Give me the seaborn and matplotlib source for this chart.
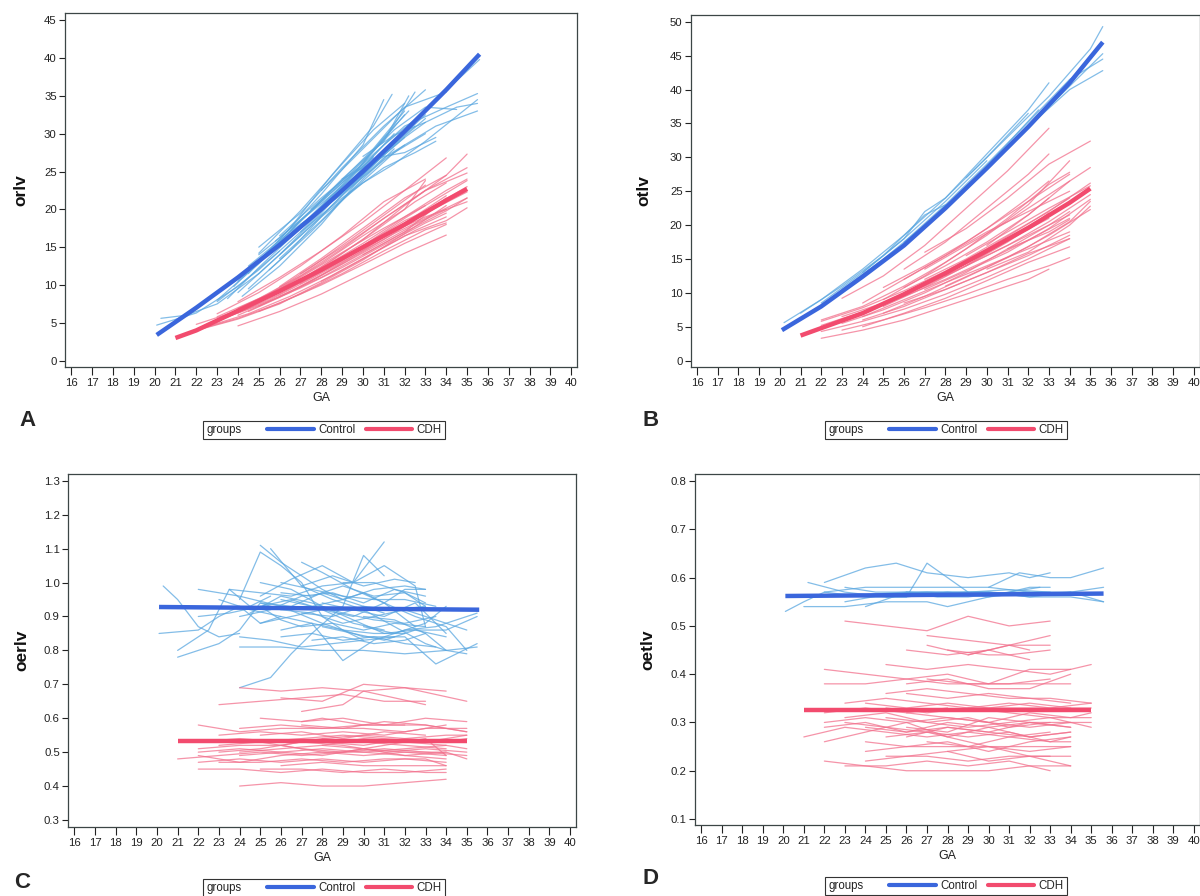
import pandas as pd
import matplotlib
matplotlib.use("Agg")
import matplotlib.pyplot as plt
from matplotlib.lines import Line2D
from matplotlib.text import Text
import seaborn as sns

# ---------------- data ----------------
ga_ticks = list(range(16, 41))

# panel A: orlv, individual subjects as (GA, value)
orlv_control = [
    [(20.1, 4.7), (22, 6.3), (24, 9.8), (26, 14.5)],
    [(20.3, 5.6), (21.5, 6.0), (23, 7.5), (25, 11.5)],
    [(23.5, 8.2), (25, 12.3), (27, 17.5), (29, 23), (31, 28.5), (33, 33)],
    [(24, 10.5), (26, 16), (28, 22), (30, 28.5), (31, 34.5)],
    [(24.5, 11.5), (26.5, 17.5), (28.5, 24.5), (30.5, 31), (31.4, 35.2)],
    [(25, 13), (27, 18.5), (29, 24), (31, 29), (32.5, 35.5)],
    [(25, 15), (27, 19.5), (29, 25.5), (31, 31), (33, 35.8)],
    [(24.2, 8.5), (26, 12.5), (28, 18), (30, 24.5), (32, 30), (33, 32.5)],
    [(25.5, 12), (27.5, 17), (29.5, 22.5), (31.5, 27.5), (33, 30)],
    [(26, 16.5), (28, 21.5), (30, 26), (32, 31), (34, 33.5), (35.5, 35.3)],
    [(27, 18), (29, 22), (31, 26.5), (32, 28.5), (33.5, 31), (35.5, 33)],
    [(26, 14), (28, 19), (30, 23.5), (31.5, 26), (33, 29), (35.5, 34.5)],
    [(28, 22.5), (30, 28), (32, 33.5), (34, 35.5)],
    [(23, 8), (25, 12.8), (27, 18.5), (29, 23.5), (30.5, 26.8)],
    [(25, 14.2), (27, 19.8), (29, 26), (30.5, 30.5), (32, 34)],
    [(26.5, 17), (28.5, 21), (30, 24.5), (31.5, 28.5), (33, 32)],
    [(24.5, 9.5), (26.5, 14.5), (28.5, 20.5), (30.5, 26), (32, 29.5)],
    [(33, 33), (34.5, 37), (35.6, 39.8)],
    [(27.5, 20), (29.5, 25), (31.5, 30.5), (33, 33.5), (34.5, 33.2)],
    [(25.8, 15.8), (27.8, 20.5), (29.8, 25.5), (31.2, 30), (32.2, 35)],
    [(23, 7.8), (25, 12), (27, 17), (29, 22.5), (30.5, 27)],
    [(24, 9), (26, 14), (28, 19.5), (30, 25.5), (31.5, 30)],
    [(25, 14), (27, 18.5), (29, 23), (31, 27.5), (32.5, 31)],
    [(26, 15), (28, 20.5), (30, 26), (32, 32.5)],
    [(24.5, 12.5), (26.5, 17), (28.5, 22.5), (30.5, 28), (32, 33)],
    [(27, 17), (29, 21.5), (31, 25.5), (32.5, 27.5), (33.5, 29)],
    [(25, 11.5), (27, 16.5), (29, 21.8), (31, 26.8), (32, 28.5)],
    [(28, 20), (30, 24.8), (32, 29.5), (33, 31.5)],
    [(26, 13.5), (28, 18.5), (30, 24), (31.5, 28)],
    [(23.8, 9.8), (25.5, 14.5), (27.5, 19), (29.5, 24.5), (31, 29.5), (32.2, 33)],
    [(29, 24), (31, 27), (32, 27.5), (33.5, 29.5)],
    [(30, 27), (31.5, 29.8), (33, 31.5), (34.5, 33.5), (35.5, 34)],
]
orlv_cdh = [
    [(22, 4.8), (24, 6.6), (26, 9), (28, 12.4), (30, 16), (32, 20.5), (34, 24.5), (35, 27.3)],
    [(23, 6.2), (25, 9), (27, 12.5), (29, 16.5), (31, 21), (33, 24)],
    [(24, 4.6), (26, 6.5), (28, 8.8), (30, 11.5), (32, 14.2), (34, 16.6)],
    [(22.2, 4.2), (24, 5.6), (26, 7.6), (28, 10), (30, 12.7), (32, 15.5), (34, 18)],
    [(24, 7.8), (26, 11), (28, 14.5), (30, 18.3), (32, 22.5), (34, 26.8)],
    [(25, 8), (27, 11), (29, 14.3), (31, 17.5), (33, 20.5), (35, 23.8)],
    [(23.5, 5.8), (25.5, 8), (27.5, 10.8), (29.5, 13.8), (31.5, 16.8), (33.5, 19.5), (35, 21.5)],
    [(24.5, 6.5), (26.5, 9), (28.5, 12), (30.5, 15), (32.5, 18), (34, 20)],
    [(22.5, 4.5), (24.5, 6.2), (26.5, 8.5), (28.5, 11.2), (30.5, 14.2), (32.5, 17.2), (34, 19)],
    [(26, 9.8), (28, 13.5), (30, 17.5), (32, 21.5), (34, 24.5)],
    [(25, 7.2), (27, 9.8), (29, 12.8), (31, 16), (33, 19.5), (35, 22.3)],
    [(27, 11.5), (29, 15), (31, 18.8), (33, 22.5), (35, 24.8)],
    [(23, 5.3), (25, 7.3), (27, 9.6), (29, 12.3), (31, 15.3), (33, 18.2), (34, 19.5)],
    [(28, 10.5), (30, 13.5), (32, 16.5), (34, 18.5), (35, 20.2)],
    [(26, 8.5), (28, 11), (30, 14), (32, 17), (34, 21.5)],
    [(24, 6.9), (26, 9.5), (28, 12.8), (30, 16.5), (32, 20), (33, 23.8)],
    [(29, 13.5), (31, 16.5), (33, 19), (35, 21)],
    [(22, 4.0), (24, 5.5), (26, 7.5), (28, 10.3), (30, 13.3), (32, 16.8), (34, 20.5)],
    [(24, 6), (26, 8.4), (28, 11.3), (30, 14.6), (32, 18.2), (34, 21.8)],
    [(25, 6.5), (27, 8.8), (29, 11.5), (31, 14.5), (33, 17.3), (34, 18.2)],
    [(23, 5.8), (25, 8.2), (27, 11.2), (29, 14.8), (31, 18.8), (33, 22.5), (35, 25.5)],
    [(26, 9.2), (28, 12.2), (30, 15.5), (32, 19), (34, 22.5), (35, 24)],
    [(27, 10.2), (29, 13.2), (31, 16.5), (33, 19.8), (35, 23)],
    [(22.5, 4.8), (24.5, 7), (26.5, 9.8), (28.5, 13.2), (30.5, 17), (32.5, 21), (34, 23.5)],
    [(28, 12), (30, 15.2), (32, 18.5), (34, 21)],
    [(24, 6.3), (26, 8.8), (28, 11.8), (30, 15.2), (32, 18.8), (33, 20.5)],
    [(30, 14), (32, 17), (34, 19.8), (35, 21.5)],
    [(25.5, 8.8), (27.5, 12.3), (29.5, 16.2), (31.5, 20.2), (33, 23.2)],
]
orlv_control_mean_ga = [20.1, 22, 24, 26, 28, 30, 32, 34, 35.6]
orlv_control_mean = [3.4, 7.0, 11.0, 15.3, 20.0, 25.0, 30.3, 35.8, 40.5]
orlv_cdh_mean_ga = [21, 22, 24, 26, 28, 30, 32, 34, 35]
orlv_cdh_mean = [3.0, 4.0, 6.6, 9.2, 12.0, 15.0, 18.0, 21.2, 22.7]

# panel B: otlv
otlv_control = [
    [(20.2, 5.6), (22, 9), (24, 13.5), (26, 18.5), (28, 24), (30, 30.5), (32, 37), (33, 41)],
    [(21, 7), (23, 11), (25, 15.5), (27, 21.5), (28, 23)],
    [(24, 13), (26, 18), (27, 22), (28, 24), (30, 30), (32, 36.5)],
    [(29, 27), (31, 33), (33, 39), (35, 46), (35.6, 49.3)],
    [(32, 34.5), (34, 40), (35.6, 42.8)],
    [(31, 31.5), (33, 37.5), (35.6, 45.3)],
    [(22, 8.5), (24, 13), (26, 18), (28, 23.5), (30, 29.5)],
    [(23, 10.5), (25, 15), (27, 20), (29, 25.5), (31, 32), (32.5, 37)],
    [(26, 17.5), (28, 23), (30, 29), (32, 35.2), (34, 41.5), (35.6, 44.5)],
]
otlv_cdh = [
    [(23, 9.2), (25, 12.5), (27, 17), (29, 22.5), (31, 28), (33, 34.3)],
    [(26, 13.5), (28, 17.5), (30, 22.5), (32, 27.5), (33, 30.5)],
    [(27, 16), (29, 19.5), (31, 24), (33, 29), (35, 32.4)],
    [(22, 6), (24, 8), (26, 11), (28, 14.5), (30, 18.5), (32, 23), (34, 29.5)],
    [(22, 3.3), (24, 4.5), (26, 6), (28, 8), (30, 10), (32, 12), (33, 13.5)],
    [(23, 4.5), (25, 6), (27, 7.8), (29, 9.8), (31, 12), (33, 14), (34, 15.2)],
    [(24, 5), (26, 7), (28, 9.2), (30, 11.8), (32, 14.5), (34, 16.8)],
    [(25, 7), (27, 9.5), (29, 12.3), (31, 15.2), (33, 18.5), (35, 22.3)],
    [(26, 10.8), (28, 14), (30, 17.5), (32, 21.5), (34, 26.5)],
    [(22, 5.2), (24, 7.2), (26, 9.5), (28, 12), (30, 14.8), (32, 17.8), (34, 21)],
    [(27, 12), (29, 15), (31, 18.5), (33, 22), (35, 26.2)],
    [(24, 6.5), (26, 9), (28, 11.5), (30, 14), (32, 16.5), (34, 19)],
    [(25, 9), (27, 12.5), (29, 16.5), (31, 21), (33, 26), (34, 27.8)],
    [(28, 11), (30, 13.8), (32, 16.8), (34, 20.5), (35, 23.5)],
    [(23, 5.5), (25, 7.5), (27, 10), (29, 13), (31, 16.5), (33, 20), (34, 22)],
    [(26, 8.5), (28, 10.5), (30, 13), (32, 15.8), (34, 18)],
    [(29, 14), (31, 17), (33, 20.5), (35, 24.5)],
    [(30, 17), (32, 21.5), (33, 24)],
    [(27, 10.5), (29, 13.2), (31, 16), (33, 19.5), (35, 23.8)],
    [(22, 4.3), (24, 5.8), (26, 7.6), (28, 9.8), (30, 12.3), (32, 15), (34, 18)],
    [(24, 8.5), (26, 12), (28, 15.5), (30, 19.5), (32, 24), (33, 26.5)],
    [(25, 10.8), (27, 14), (29, 17.5), (31, 21.5), (33, 25.5), (34, 27.5)],
    [(26, 12), (28, 15.5), (30, 19), (32, 22), (34, 25)],
    [(27, 13.5), (29, 17), (31, 20.5), (33, 24.5), (35, 28.5)],
    [(23, 6.5), (25, 8.5), (27, 11), (29, 14), (31, 17.5), (33, 21.5)],
    [(28, 12.5), (30, 15.5), (32, 18.5), (34, 21.5)],
    [(29, 15.5), (31, 19), (33, 22.5), (35, 25.8)],
    [(24, 6), (26, 8), (28, 10.5), (30, 13), (32, 15.5), (34, 18.5)],
    [(22, 5.8), (24, 7.8), (26, 10.3), (28, 13.2), (30, 16.5), (32, 20.2), (34, 24)],
    [(30, 13.5), (32, 16), (34, 20), (35, 22.8)],
    [(26, 10), (28, 12.8), (30, 16), (32, 19.5), (33, 21.8)],
    [(25, 8), (27, 10.8), (29, 14), (31, 17.8), (33, 21)],
    [(31, 16.5), (33, 19), (34, 20.8)],
]
otlv_control_mean_ga = [20.1, 22, 24, 26, 28, 30, 32, 34, 35.6]
otlv_control_mean = [4.5, 8.0, 12.4, 17.0, 22.5, 28.4, 34.5, 41.0, 47.0]
otlv_cdh_mean_ga = [21, 22, 24, 26, 28, 30, 32, 34, 35]
otlv_cdh_mean = [3.7, 4.8, 7.0, 9.8, 12.9, 16.2, 19.6, 23.3, 25.4]

# panel C: oerlv
oerlv_control = [
    [(20.3, 0.99), (21, 0.95), (22, 0.87), (23, 0.84), (24, 0.85)],
    [(20.1, 0.85), (22, 0.86), (23, 0.90), (24, 0.93), (25, 0.88), (26, 0.90)],
    [(21, 0.78), (22, 0.80), (23, 0.82), (24, 0.86), (25, 0.94), (26, 0.92)],
    [(21, 0.80), (22.5, 0.86), (23.5, 0.98), (24.5, 0.93), (25.5, 0.96)],
    [(24, 0.69), (25.5, 0.72), (26.5, 0.79), (27.5, 0.85), (29, 0.93), (30, 1.08), (31, 1.02)],
    [(25, 1.11), (26, 1.06), (27, 1.02), (28, 0.98), (29, 0.95), (30, 0.97), (31, 0.94), (32.5, 0.87)],
    [(25.5, 1.10), (27, 0.99), (28.5, 0.95), (30, 0.92), (31.5, 0.87), (33, 0.82), (34, 0.80)],
    [(24, 0.95), (25, 1.09), (26, 1.05), (27, 1.00), (28, 0.90), (29, 0.86), (30, 0.83)],
    [(23.5, 0.98), (25, 0.97), (26.5, 0.96), (28, 0.99), (29.5, 1.00), (31, 1.12)],
    [(25, 0.96), (26.5, 1.01), (28, 1.05), (29.5, 1.00), (31, 1.05), (32.5, 0.99), (33, 0.87)],
    [(22, 0.98), (23, 0.97), (24, 0.96), (26, 0.93), (28, 0.88), (30, 0.84), (32, 0.84), (33.5, 0.76), (35.5, 0.82)],
    [(24, 0.81), (26, 0.81), (28, 0.80), (30, 0.80), (32, 0.79), (34, 0.80), (35.5, 0.81)],
    [(26, 0.86), (27.5, 0.88), (29, 0.77), (30.5, 0.83), (32, 0.86), (33.5, 0.87), (35.5, 0.91)],
    [(25, 0.88), (26.5, 0.90), (28, 0.92), (29.5, 0.90), (31, 0.94), (32, 0.98), (33, 0.98)],
    [(26, 1.00), (27.5, 0.98), (29, 0.96), (30.5, 0.95), (32, 0.95), (33.5, 0.93)],
    [(27, 1.06), (28, 1.03), (29.5, 0.98), (31, 0.94), (32.5, 0.90), (34, 0.87), (35, 0.80)],
    [(24.5, 0.91), (26, 0.96), (27.5, 0.94), (29, 0.91), (30.5, 0.89), (32, 0.88), (33.5, 0.90)],
    [(27.5, 0.83), (29, 0.84), (30.5, 0.82), (32, 0.83), (33, 0.85)],
    [(28, 0.94), (29.5, 0.92), (31, 0.90), (32.5, 0.94), (34, 0.85)],
    [(25, 0.93), (26, 0.89), (27, 0.87), (28.5, 0.88), (30, 0.86), (31.5, 0.88), (33, 0.87)],
    [(26, 0.95), (27.5, 0.93), (29, 0.95), (30.5, 0.98), (32, 0.99), (33, 0.98)],
    [(30, 0.90), (31.5, 0.89), (33, 0.85), (34, 0.80), (35, 0.79)],
    [(22, 0.90), (23.5, 0.91), (25, 0.93), (26.5, 0.95), (28, 0.92), (29.5, 0.88), (31, 0.86)],
    [(24, 0.90), (25.5, 0.92), (27, 0.96), (28.5, 0.97), (30, 0.94), (31.5, 0.98), (33, 0.96)],
    [(26, 0.97), (27.5, 0.96), (29, 0.99), (30.5, 0.96), (32, 0.97), (33, 0.94)],
    [(25, 1.00), (26.5, 0.98), (28, 0.93), (29.5, 0.89), (31, 0.85), (32.5, 0.86), (34, 0.84)],
    [(27, 0.91), (28.5, 0.90), (30, 0.93), (31.5, 0.92), (33, 0.93)],
    [(23, 0.95), (24.5, 0.92), (26, 0.90), (27.5, 0.88), (29, 0.86), (30.5, 0.85), (32, 0.85)],
    [(28, 0.87), (29.5, 0.85), (31, 0.83), (32.5, 0.86), (34, 0.86), (35.5, 0.90)],
    [(26, 0.84), (27.5, 0.85), (29, 0.83), (30.5, 0.84), (32, 0.82), (33.5, 0.81)],
    [(29, 1.00), (30.5, 1.00), (32, 0.97), (33, 0.93)],
    [(25, 0.94), (26.5, 0.93), (28, 0.97), (29.5, 0.94), (31, 0.91)],
    [(27, 0.99), (28.5, 1.02), (30, 0.99), (31.5, 1.01), (32.5, 1.00)],
    [(24, 0.84), (25.5, 0.83), (27, 0.81), (28.5, 0.82), (30, 0.83), (31.5, 0.84)],
    [(30, 0.87), (31.5, 0.85), (33, 0.88), (34, 0.93)],
    [(26, 0.92), (27.5, 0.91), (29, 0.88), (30.5, 0.90), (32, 0.92), (33.5, 0.89), (35, 0.86)],
]
oerlv_cdh = [
    [(24, 0.69), (26, 0.68), (28, 0.69), (30, 0.68), (32, 0.69), (34, 0.68)],
    [(23, 0.64), (25, 0.65), (27, 0.66), (29, 0.67), (31, 0.65), (33, 0.65)],
    [(26, 0.66), (28, 0.65), (30, 0.70), (32, 0.69), (35, 0.65)],
    [(27, 0.62), (29, 0.64), (30, 0.68), (31.5, 0.66), (33, 0.64)],
    [(25, 0.60), (27, 0.59), (28, 0.60), (30, 0.58), (31, 0.58), (33, 0.60), (35, 0.59)],
    [(22, 0.58), (24, 0.56), (26, 0.57), (28, 0.57), (30, 0.57), (32, 0.56), (34, 0.58)],
    [(23, 0.55), (25, 0.56), (27, 0.55), (29, 0.56), (31, 0.55), (33, 0.57), (35, 0.57)],
    [(22, 0.51), (24, 0.52), (26, 0.52), (28, 0.54), (30, 0.53), (32, 0.52), (34, 0.51)],
    [(21, 0.48), (23, 0.49), (25, 0.50), (27, 0.49), (29, 0.50), (31, 0.51), (33, 0.50), (35, 0.49)],
    [(22, 0.47), (24, 0.48), (26, 0.47), (28, 0.48), (30, 0.47), (32, 0.48), (34, 0.47)],
    [(22, 0.45), (24, 0.45), (26, 0.44), (28, 0.45), (30, 0.44), (32, 0.44), (34, 0.45)],
    [(24, 0.40), (26, 0.41), (28, 0.40), (30, 0.40), (32, 0.41), (34, 0.42)],
    [(23, 0.50), (25, 0.51), (27, 0.53), (29, 0.52), (31, 0.50), (33, 0.51), (35, 0.50)],
    [(24, 0.49), (26, 0.50), (28, 0.49), (30, 0.51), (32, 0.49), (34, 0.48)],
    [(25, 0.53), (27, 0.54), (29, 0.55), (31, 0.54), (33, 0.53), (35, 0.55)],
    [(26, 0.46), (28, 0.47), (30, 0.46), (32, 0.46), (34, 0.46)],
    [(23, 0.52), (25, 0.53), (27, 0.51), (29, 0.50), (31, 0.52), (33, 0.54), (34, 0.49)],
    [(22, 0.49), (24, 0.47), (26, 0.49), (28, 0.50), (30, 0.49), (32, 0.50), (34, 0.50), (35, 0.48)],
    [(27, 0.58), (29, 0.57), (31, 0.59), (33, 0.58), (35, 0.56)],
    [(28, 0.52), (30, 0.54), (32, 0.53), (34, 0.52)],
    [(22, 0.53), (24, 0.54), (26, 0.53), (28, 0.53), (30, 0.52), (32, 0.54), (34, 0.53), (35, 0.54)],
    [(24, 0.50), (26, 0.51), (28, 0.52), (30, 0.51), (32, 0.50), (34, 0.49)],
    [(25, 0.55), (27, 0.56), (29, 0.54), (31, 0.56), (33, 0.55)],
    [(23, 0.47), (25, 0.47), (27, 0.48), (29, 0.47), (31, 0.48), (33, 0.48), (34, 0.46)],
    [(26, 0.52), (28, 0.50), (30, 0.50), (32, 0.51), (34, 0.52), (35, 0.51)],
    [(27, 0.59), (29, 0.60), (31, 0.58), (33, 0.58), (35, 0.56)],
    [(22, 0.50), (24, 0.51), (26, 0.50), (28, 0.51), (30, 0.50), (32, 0.49), (34, 0.50)],
    [(25, 0.45), (27, 0.45), (29, 0.44), (31, 0.45), (33, 0.44), (34, 0.44)],
    [(28, 0.54), (30, 0.55), (32, 0.54), (34, 0.55), (35, 0.55)],
    [(24, 0.57), (26, 0.58), (28, 0.57), (30, 0.58), (32, 0.58)],
]
oerlv_control_mean_ga = [20.1, 35.6]
oerlv_control_mean = [0.928, 0.920]
oerlv_cdh_mean_ga = [21, 35]
oerlv_cdh_mean = [0.533, 0.533]

# panel D: oetlv
oetlv_control = [
    [(22, 0.59), (24, 0.62), (25.5, 0.63), (27, 0.61), (29, 0.60), (31, 0.61), (32, 0.60), (33, 0.61)],
    [(21.2, 0.59), (23, 0.57), (25, 0.56), (26, 0.56), (27, 0.63), (28, 0.60), (29, 0.57)],
    [(20.1, 0.53), (21, 0.55), (22, 0.57), (24, 0.58), (26, 0.58), (28, 0.58), (30, 0.58), (32, 0.57)],
    [(21, 0.54), (23, 0.54), (25, 0.55), (27, 0.55), (28, 0.54), (30, 0.56), (32, 0.58), (33, 0.58)],
    [(24, 0.54), (26, 0.57), (28, 0.57), (30, 0.57), (32, 0.56), (34, 0.57), (35.6, 0.55)],
    [(22, 0.57), (24, 0.56), (26, 0.56), (28, 0.57), (30, 0.57), (32, 0.56), (34, 0.56), (35.6, 0.55)],
    [(30, 0.58), (31.5, 0.61), (33, 0.60), (34, 0.60), (35.6, 0.62)],
    [(26, 0.57), (28, 0.57), (30, 0.56), (32, 0.57), (34, 0.57), (35.6, 0.58)],
    [(23, 0.58), (24.5, 0.57), (26, 0.57), (27.5, 0.56), (29, 0.56), (31, 0.57), (32.5, 0.58)],
    [(24, 0.565), (26, 0.57), (28, 0.565), (30, 0.57), (32, 0.565), (34, 0.57)],
    [(25, 0.56), (27, 0.565), (29, 0.57), (31, 0.575), (33, 0.57)],
    [(23, 0.55), (25, 0.565), (27, 0.57), (29, 0.565)],
]
oetlv_cdh = [
    [(23, 0.51), (25, 0.50), (27, 0.49), (29, 0.52), (31, 0.50), (33, 0.51)],
    [(27, 0.48), (29, 0.47), (31, 0.46), (32, 0.45)],
    [(27, 0.46), (29, 0.44), (31, 0.46), (33, 0.46)],
    [(26, 0.45), (28, 0.44), (30, 0.45), (32, 0.43)],
    [(28, 0.45), (30, 0.44), (31, 0.44), (33, 0.45)],
    [(29, 0.44), (31, 0.46), (33, 0.48)],
    [(22, 0.41), (24, 0.40), (26, 0.39), (28, 0.40), (30, 0.38), (32, 0.41), (34, 0.41)],
    [(22, 0.38), (24, 0.38), (26, 0.39), (28, 0.38), (30, 0.38), (32, 0.38), (34, 0.38)],
    [(25, 0.42), (27, 0.41), (29, 0.42), (31, 0.41), (33, 0.40), (35, 0.42)],
    [(26, 0.38), (28, 0.39), (30, 0.37), (32, 0.37), (34, 0.40)],
    [(25, 0.36), (27, 0.37), (29, 0.36), (31, 0.35), (33, 0.35), (35, 0.34)],
    [(23, 0.34), (25, 0.35), (27, 0.34), (29, 0.33), (31, 0.33), (33, 0.33), (35, 0.34)],
    [(22, 0.30), (24, 0.31), (26, 0.30), (28, 0.31), (30, 0.30), (32, 0.29), (34, 0.30), (35, 0.30)],
    [(21, 0.27), (23, 0.29), (25, 0.28), (27, 0.27), (29, 0.28), (31, 0.27), (33, 0.28)],
    [(22, 0.26), (24, 0.28), (26, 0.30), (28, 0.27), (30, 0.29), (32, 0.27), (34, 0.28)],
    [(24, 0.26), (26, 0.25), (28, 0.25), (30, 0.25), (32, 0.25), (34, 0.25)],
    [(24, 0.24), (26, 0.25), (28, 0.26), (30, 0.24), (32, 0.26), (34, 0.27)],
    [(22, 0.22), (24, 0.21), (26, 0.20), (28, 0.20), (30, 0.20), (32, 0.21), (34, 0.21)],
    [(23, 0.21), (25, 0.21), (27, 0.22), (29, 0.21), (31, 0.22), (33, 0.20)],
    [(24, 0.22), (26, 0.23), (28, 0.24), (30, 0.22), (32, 0.23), (34, 0.23)],
    [(25, 0.31), (27, 0.30), (29, 0.29), (31, 0.30), (33, 0.31), (35, 0.31)],
    [(26, 0.29), (28, 0.28), (30, 0.31), (32, 0.30), (34, 0.29)],
    [(25, 0.33), (27, 0.32), (29, 0.33), (31, 0.32), (33, 0.31), (35, 0.29)],
    [(23, 0.30), (25, 0.29), (27, 0.28), (29, 0.26), (31, 0.24), (33, 0.22), (34, 0.21)],
    [(24, 0.29), (26, 0.28), (28, 0.30), (30, 0.29), (32, 0.30), (34, 0.30)],
    [(25, 0.27), (27, 0.28), (29, 0.27), (31, 0.28), (33, 0.26), (34, 0.27)],
    [(26, 0.32), (28, 0.31), (30, 0.30), (32, 0.32), (34, 0.31), (35, 0.32)],
    [(22, 0.29), (24, 0.30), (26, 0.28), (28, 0.29), (30, 0.28), (32, 0.30), (34, 0.29)],
    [(27, 0.26), (29, 0.25), (31, 0.27), (33, 0.26), (34, 0.26)],
    [(23, 0.31), (25, 0.32), (27, 0.30), (29, 0.31), (31, 0.29), (33, 0.30)],
    [(26, 0.36), (28, 0.35), (30, 0.36), (32, 0.35), (34, 0.34)],
    [(24, 0.34), (26, 0.33), (28, 0.34), (30, 0.33), (32, 0.34), (34, 0.33)],
    [(27, 0.39), (29, 0.38), (31, 0.38), (33, 0.39)],
    [(28, 0.24), (30, 0.25), (32, 0.24), (34, 0.25)],
    [(25, 0.23), (27, 0.23), (29, 0.22), (31, 0.23), (33, 0.23)],
    [(26, 0.27), (28, 0.29), (30, 0.28), (32, 0.27), (34, 0.28)],
    [(29, 0.33), (31, 0.34), (33, 0.33), (35, 0.33)],
    [(22, 0.32), (24, 0.33), (26, 0.32), (28, 0.33)],
]
oetlv_control_mean_ga = [20.1, 35.6]
oetlv_control_mean = [0.562, 0.567]
oetlv_cdh_mean_ga = [21, 35]
oetlv_cdh_mean = [0.325, 0.325]

# ---------------- style ----------------
sns.set_style("ticks")
plt.rcParams["font.family"] = ["Liberation Sans Narrow", "Liberation Sans", "DejaVu Sans"]

thin_pal = {"Control": "#5aa7e0", "CDH": "#f2708c"}
thick_pal = {"Control": "#3a66dc", "CDH": "#f24b6e"}
frame_col = "#3c4646"


def subject_frame(control, cdh):
    rows = []
    for group, lines in (("Control", control), ("CDH", cdh)):
        for i, line in enumerate(lines):
            for ga, v in line:
                rows.append({"group": group, "subject": f"{group}{i}", "GA": ga, "value": v})
    return pd.DataFrame(rows)


def mean_frame(c_ga, c_val, d_ga, d_val):
    return pd.DataFrame({
        "group": ["Control"] * len(c_ga) + ["CDH"] * len(d_ga),
        "GA": list(c_ga) + list(d_ga),
        "value": list(c_val) + list(d_val),
    })


class GroupsLabel:
    # draws the word "groups" in the handle slot, SAS-style legend
    def legend_artist(self, legend, orig_handle, fontsize, handlebox):
        t = Text(0, 0, "groups", fontsize=fontsize, va="baseline", ha="left",
                 color="#222222", family=["Liberation Sans", "DejaVu Sans"])
        handlebox.add_artist(t)
        return t


panels = [
    dict(name="orlv", subj=subject_frame(orlv_control, orlv_cdh),
         mean=mean_frame(orlv_control_mean_ga, orlv_control_mean, orlv_cdh_mean_ga, orlv_cdh_mean),
         rect=[0.0542, 0.5907, 0.4267, 0.3944], ylim=(-0.8, 45.9),
         yticks=list(range(0, 50, 5)), fmt="{:.0f}", letter=(28, 420), leg=(324, 430), ylab_x=-0.072),
    dict(name="otlv", subj=subject_frame(otlv_control, otlv_cdh),
         mean=mean_frame(otlv_control_mean_ga, otlv_control_mean, otlv_cdh_mean_ga, otlv_cdh_mean),
         rect=[0.5757, 0.5907, 0.4240, 0.3925], ylim=(-0.9, 51.0),
         yticks=list(range(0, 55, 5)), fmt="{:.0f}", letter=(651, 420), leg=(946, 430), ylab_x=-0.077),
    dict(name="oerlv", subj=subject_frame(oerlv_control, oerlv_cdh),
         mean=mean_frame(oerlv_control_mean_ga, oerlv_control_mean, oerlv_cdh_mean_ga, oerlv_cdh_mean),
         rect=[0.0568, 0.0773, 0.4231, 0.3936], ylim=(0.28, 1.32),
         yticks=[0.3, 0.4, 0.5, 0.6, 0.7, 0.8, 0.9, 1.0, 1.1, 1.2, 1.3], fmt="{:.1f}",
         letter=(22, 882), leg=(324, 888), ylab_x=-0.077),
    dict(name="oetlv", subj=subject_frame(oetlv_control, oetlv_cdh),
         mean=mean_frame(oetlv_control_mean_ga, oetlv_control_mean, oetlv_cdh_mean_ga, oetlv_cdh_mean),
         rect=[0.5792, 0.0792, 0.4205, 0.3914], ylim=(0.0875, 0.814),
         yticks=[0.1, 0.2, 0.3, 0.4, 0.5, 0.6, 0.7, 0.8], fmt="{:.1f}",
         letter=(650, 878), leg=(946, 886), ylab_x=-0.079),
]

fig = plt.figure(figsize=(12, 8.96), dpi=100)

for p, letter in zip(panels, "ABCD"):
    ax = fig.add_axes(p["rect"])
    sns.lineplot(data=p["subj"], x="GA", y="value", hue="group", units="subject",
                 estimator=None, sort=False, palette=thin_pal, lw=0.9, alpha=0.75,
                 legend=False, ax=ax)
    sns.lineplot(data=p["mean"], x="GA", y="value", hue="group", estimator=None,
                 sort=False, palette=thick_pal, lw=3.2, legend=False, ax=ax,
                 solid_capstyle="butt")

    ax.set_xlim(15.7, 40.28)
    ax.set_ylim(*p["ylim"])
    ax.set_xticks(ga_ticks)
    ax.set_xticklabels([str(t) for t in ga_ticks])
    ax.set_yticks(p["yticks"])
    ax.set_yticklabels([p["fmt"].format(t) for t in p["yticks"]])
    ax.tick_params(axis="both", labelsize=8.2, colors="#222222", width=0.8)
    ax.tick_params(axis="x", length=6, pad=2)
    ax.tick_params(axis="y", length=4, pad=2)
    for s in ax.spines.values():
        s.set_visible(True)
        s.set_color(frame_col)
        s.set_linewidth(0.9)

    ax.set_xlabel("GA", fontsize=9, color="#222222")
    ax.xaxis.set_label_coords(0.5, -0.072)
    ax.set_ylabel(p["name"], fontsize=12.5, fontweight="bold",
                  family=["Liberation Sans", "DejaVu Sans"], color="#111111")
    ax.yaxis.set_label_coords(p["ylab_x"], 0.5)

    lx, ly = p["letter"]
    fig.text(lx / 1200, 1 - ly / 896, letter, fontsize=16, fontweight="bold",
             family=["Liberation Sans", "DejaVu Sans"], ha="center", va="center")

    groups_handle = Line2D([], [])
    ctrl = Line2D([], [], color=thick_pal["Control"], lw=3)
    cdh = Line2D([], [], color=thick_pal["CDH"], lw=3)
    gx, gy = p["leg"]
    leg = ax.legend(handles=[groups_handle, ctrl, cdh], labels=["", "Control", "CDH"],
                    handler_map={groups_handle: GroupsLabel()}, ncol=3,
                    loc="center", bbox_to_anchor=(gx / 1200, 1 - gy / 896),
                    bbox_transform=fig.transFigure, handlelength=4.0,
                    prop={"family": ["Liberation Sans", "DejaVu Sans"], "size": 8.3},
                    handletextpad=0.4, columnspacing=0.9, borderpad=0.25,
                    frameon=True, fancybox=False, framealpha=1)
    leg.get_frame().set_edgecolor("#333333")
    leg.get_frame().set_linewidth(0.8)

fig.savefig("out.png", dpi=100)
